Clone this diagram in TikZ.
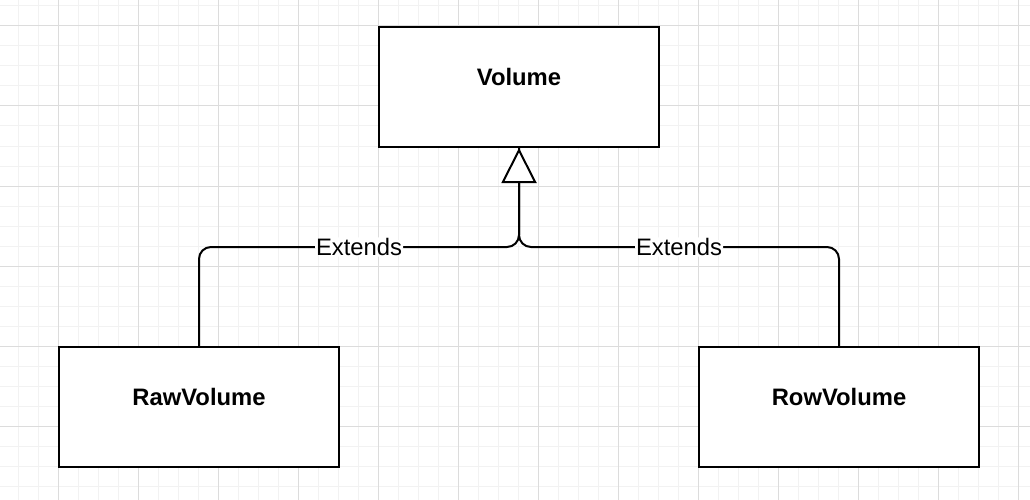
\documentclass[tikz,border=0pt]{standalone}
\usepackage{fontspec}
\setmainfont{Liberation Sans}
\usetikzlibrary{arrows.meta}
\definecolor{gridminor}{HTML}{F2F2F2}
\definecolor{gridmajor}{HTML}{DCDCDC}
\begin{document}
\begin{tikzpicture}[x=1pt,y=-1pt,
  minorline/.style={draw=gridminor,line width=1pt},
  majorline/.style={draw=gridmajor,line width=1pt},
  classbox/.style={draw=black,line width=2pt,fill=white,minimum width=280pt,minimum height=120pt,inner sep=0pt},
  classname/.style={font=\fontsize{23.8}{28}\selectfont\bfseries},
  conn/.style={draw=black,line width=2pt,rounded corners=12pt},
  extlabel/.style={fill=white,inner sep=1pt,font=\fontsize{23.8}{28}\selectfont},
  inherit/.style={-{Triangle[fill=white,length=35pt,width=35pt,line width=2pt]}}
]
\useasboundingbox (0,0) rectangle (1030,500);
\fill[white] (0,0) rectangle (1030,500);
\foreach \x in {18,38,...,1018} \draw[minorline] (\x,0) -- (\x,500);
\foreach \y in {6,26,...,500} \draw[minorline] (0,\y) -- (1030,\y);
\foreach \x in {58,138,...,1018} \draw[majorline] (\x,0) -- (\x,500);
\foreach \y in {26,106,...,500} \draw[majorline] (0,\y) -- (1030,\y);

\node[classbox,label={[classname,yshift=10pt]center:Volume}] (volume) at (519,87) {};
\node[classbox,label={[classname,yshift=10pt]center:RawVolume}] (raw) at (199,407) {};
\node[classbox,label={[classname,yshift=10pt]center:RowVolume}] (row) at (839,407) {};
\coordinate (j) at (519,247);

\draw[conn] (row.north) |- node[extlabel,pos=0.75] {Extends} (j) -- (volume.south);
\draw[conn,inherit] (raw.north) |- node[extlabel,pos=0.75] {Extends} (j) -- (volume.south);
\end{tikzpicture}
\end{document}
